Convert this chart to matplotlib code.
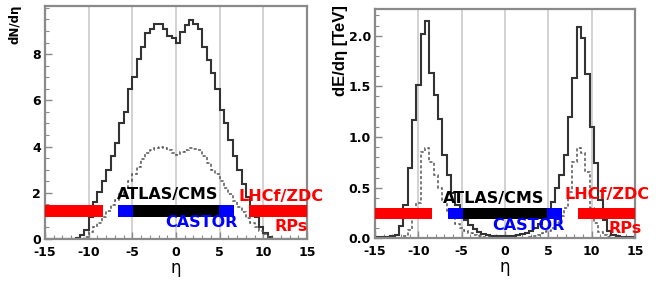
import numpy as np
import matplotlib
matplotlib.use('Agg')
from matplotlib import pyplot as plt

# eta binning (0.5 wide)
edges_n = np.arange(-15, 15.01, 0.5)
edges_e = np.arange(-15.25, 15.26, 0.5)

# dN/deta, solid and dotted
dndeta_solid = [0, 0, 0, 0, 0, 0, 0,
                0.03, 0.17, 0.4, 0.97, 1.6, 2.05, 2.5, 3.0, 3.6, 4.15, 5.0, 5.5,
                6.5, 7.0, 7.8, 8.3, 8.9, 9.1, 9.3, 9.3, 9.1, 8.8, 8.7,
                8.5, 8.95, 9.25, 9.48, 9.3, 9.1, 8.3, 7.75, 7.2, 6.5, 5.6, 5.0,
                4.3, 3.6, 3.0, 2.4, 1.8, 1.4, 0.95, 0.5, 0.25, 0.1, 0.02,
                0, 0, 0, 0, 0, 0, 0]
dndeta_dotted = [0, 0, 0, 0, 0, 0, 0, 0, 0,
                 0.1, 0.3, 0.5, 0.7, 0.95, 1.2, 1.45, 1.7, 1.95, 2.2, 2.5, 2.8,
                 3.1, 3.45, 3.7, 3.85, 3.95, 4.0, 3.95, 3.85, 3.7,
                 3.65, 3.75, 3.85, 3.95, 3.9, 3.85, 3.6, 3.3, 3.0, 2.8, 2.5,
                 2.2, 1.95, 1.65, 1.4, 1.15, 0.9, 0.7, 0.5, 0.35, 0.2, 0.08,
                 0, 0, 0, 0, 0, 0, 0, 0]

# dE/deta [TeV], solid and dotted
dedeta_solid = [0.01, 0.01, 0.01, 0.01, 0.02, 0.03, 0.12, 0.33, 0.69, 1.17,
                1.51, 2.02, 2.14, 1.63, 1.41, 1.18, 0.82, 0.62, 0.45, 0.33,
                0.25, 0.18, 0.13, 0.09, 0.06, 0.04, 0.03, 0.02, 0.02, 0.02,
                0.02, 0.02, 0.02, 0.03, 0.04, 0.05, 0.07, 0.1, 0.14, 0.19,
                0.26, 0.36, 0.5, 0.62, 0.82, 1.2, 1.58, 2.09, 1.98, 1.62,
                1.1, 0.74, 0.38, 0.18, 0.07, 0.03, 0.02, 0.01, 0.01, 0.01, 0.01]
dedeta_dotted = [0, 0, 0, 0, 0, 0, 0,
                 0.02, 0.08, 0.2, 0.35, 0.85, 0.89, 0.75, 0.62, 0.5, 0.38,
                 0.27, 0.2, 0.14, 0.1, 0.07, 0.05, 0.03, 0.02, 0.01, 0.01,
                 0.005, 0.005, 0.005, 0.005, 0.005, 0.005, 0.005, 0.005, 0.005,
                 0.01, 0.02, 0.03, 0.05, 0.07, 0.1, 0.15, 0.22, 0.3, 0.46,
                 0.75, 0.89, 0.84, 0.65, 0.3, 0.15, 0.06, 0.03, 0.01,
                 0, 0, 0, 0, 0, 0]

# detector acceptance in eta
lhcf_zdc = [(-15, -8.4), (8.4, 15)]
castor = (-6.6, 6.6)
atlas_cms = (-4.9, 4.9)

xticks = [-15, -10, -5, 0, 5, 10, 15]
grid_eta = [-10, -5, 0, 5, 10]

plt.rcParams['font.family'] = ['DejaVu Sans']
plt.rcParams['font.weight'] = 'bold'


def panel(ax, edges, solid, dotted, ylim, yticks, yfmt, bar_y, bar_h, txt):
    frame = '#8a8a8a'
    for g in grid_eta:
        ax.axvline(g, color='#cfcfcf', lw=1.3, zorder=0)
    ax.stairs(solid, edges, color='#333333', lw=1.5, zorder=2)
    ax.stairs(dotted, edges, color='#555555', lw=1.1, ls=(0, (2, 1.5)), zorder=2)

    for lo, hi in lhcf_zdc:
        ax.barh(bar_y, hi - lo, left=lo, height=bar_h, color='#ff0000', zorder=3)
    ax.barh(bar_y, castor[1] - castor[0], left=castor[0], height=bar_h,
            color='#0000ff', zorder=3)
    ax.barh(bar_y, atlas_cms[1] - atlas_cms[0], left=atlas_cms[0], height=bar_h,
            color='#000000', zorder=4)

    kw = dict(fontsize=11.5, fontweight='bold', zorder=5, clip_on=False)
    ax.text(txt['atlas'][0], txt['atlas'][1], 'ATLAS/CMS', color='black',
            ha='center', va='bottom', **kw)
    ax.text(txt['castor'][0], txt['castor'][1], 'CASTOR', color='#0000ff',
            ha='center', va='center', **kw)
    ax.text(txt['lhcf'][0], txt['lhcf'][1], 'LHCf/ZDC', color='#ff0000',
            ha='center', va='center', **kw)
    ax.text(txt['rps'][0], txt['rps'][1], 'RPs', color='#ff0000',
            ha='center', va='center', **kw)

    ax.set_xlim(-15, 15)
    ax.set_ylim(*ylim)
    ax.set_xticks(xticks)
    ax.set_xticklabels([str(t) for t in xticks])
    ax.set_yticks(yticks)
    ax.set_yticklabels([yfmt % t for t in yticks])
    ax.minorticks_on()
    ax.tick_params(which='both', direction='in', top=False, right=False,
                   labelsize=9, color=frame)
    ax.tick_params(axis='x', pad=5)
    ax.tick_params(axis='y', pad=3)
    ax.tick_params(which='major', length=5, width=1)
    ax.tick_params(which='minor', length=3, width=0.8)
    for s in ax.spines.values():
        s.set_color(frame)
        s.set_linewidth(1.6)
    ax.set_xlabel('η', fontsize=12, fontweight='normal', labelpad=0)


fig = plt.figure(figsize=(6.64, 2.85), dpi=100)
ax1 = fig.add_axes([45 / 664, 1 - 239 / 285, 262 / 664, 233 / 285])
ax2 = fig.add_axes([375 / 664, 1 - 238.3 / 285, 260 / 664, 229 / 285])

panel(ax1, edges_n, dndeta_solid, dndeta_dotted, (0, 10.08), [0, 2, 4, 6, 8],
      '%d', 1.22, 0.5,
      {'atlas': (-1.0, 1.6), 'castor': (2.9, 0.7), 'lhcf': (12.0, 1.83),
       'rps': (13.2, 0.53)})
panel(ax2, edges_e, dedeta_solid, dedeta_dotted, (0, 2.26),
      [0, 0.5, 1.0, 1.5, 2.0], '%.1f', 0.245, 0.11,
      {'atlas': (-1.3, 0.32), 'castor': (2.7, 0.13), 'lhcf': (11.8, 0.43),
       'rps': (13.9, 0.1)})

fig.text(15 / 664, 1 - 5 / 285, 'dN/dη', rotation=90, ha='center', va='top',
         fontsize=8.5)
fig.text(340 / 664, 1 - 5 / 285, 'dE/dη [TeV]', rotation=90, ha='center',
         va='top', fontsize=12, family='Liberation Sans')

fig.savefig('out.png', dpi=100)
